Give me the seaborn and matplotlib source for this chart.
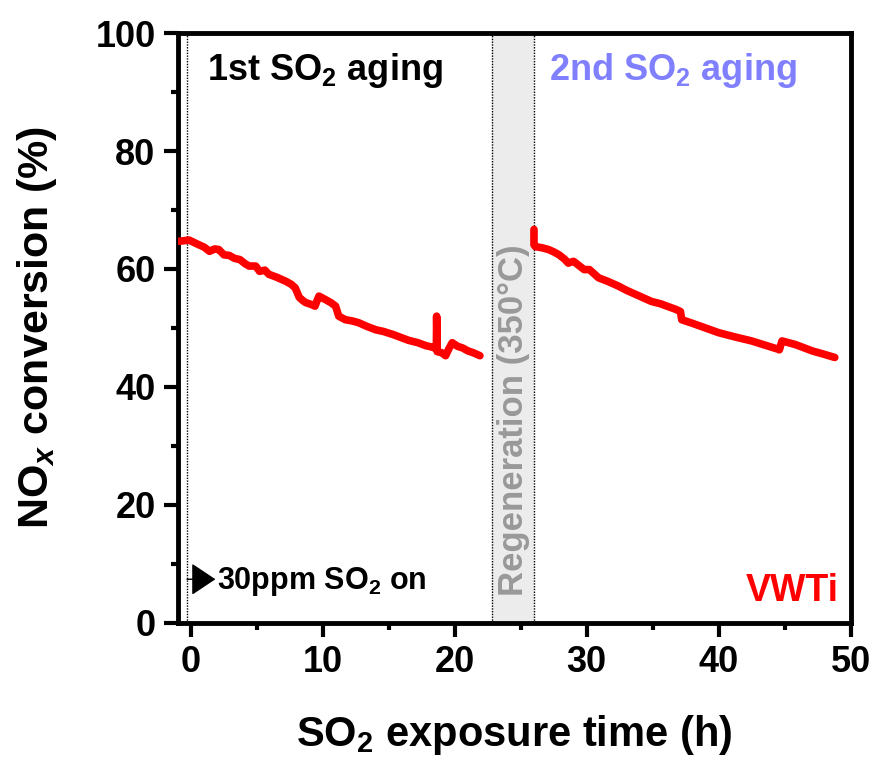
import matplotlib
matplotlib.use("Agg")
import matplotlib.pyplot as plt
import seaborn as sns
import pandas as pd

sns.set_theme(style="ticks")
plt.rcParams["font.family"] = ["Liberation Sans", "DejaVu Sans"]
plt.rcParams["font.weight"] = "bold"
plt.rcParams["mathtext.fontset"] = "custom"
plt.rcParams["mathtext.rm"] = "Liberation Sans:bold"
plt.rcParams["mathtext.it"] = "Liberation Sans:bold:italic"
plt.rcParams["mathtext.bf"] = "Liberation Sans:bold"
plt.rcParams["mathtext.default"] = "regular"
for key in ("text.color", "axes.labelcolor", "xtick.color", "ytick.color", "axes.edgecolor"):
    plt.rcParams[key] = "black"

# First SO2 aging run: NOx conversion (%) vs exposure time (h)
t1 = [-0.9, -0.15, 0.6, 1.0, 1.4, 1.8, 2.1, 2.5, 2.9, 3.3, 3.7, 4.1, 4.4, 4.9, 5.2, 5.6, 5.9,
      6.5, 7.2, 7.6, 7.9, 8.2, 8.5, 8.7, 9.1, 9.4, 9.55, 9.7, 10.2, 10.6, 10.96, 11.2, 11.7,
      12.2, 12.7, 13.3, 14.0, 14.6, 15.3, 15.9, 16.5, 17.2, 17.8, 18.2, 18.5, 18.6, 18.62,
      18.66, 19.0, 19.3, 19.55, 19.8, 20.2, 20.6, 21.0, 21.4, 21.9]
y1 = [64.7, 64.9, 64.1, 63.7, 63.0, 63.4, 63.3, 62.4, 62.3, 61.8, 61.6, 60.9, 60.5, 60.5, 59.6, 59.8, 59.1,
      58.6, 57.9, 57.4, 56.8, 55.2, 54.6, 54.3, 54.0, 53.7, 54.6, 55.4, 54.8, 54.3, 53.7, 52.0, 51.4,
      51.2, 50.9, 50.3, 49.7, 49.4, 48.9, 48.4, 47.9, 47.5, 47.0, 46.8, 46.6, 46.4, 52.0,
      46.0, 45.8, 45.3, 46.5, 47.5, 46.9, 46.6, 46.1, 45.8, 45.3]

# Second SO2 aging run after regeneration
t2 = [26.0, 26.0, 26.1, 26.6, 27.1, 27.5, 27.9, 28.3, 28.6, 29.0, 29.4, 29.8, 30.2, 30.6, 30.9,
      31.6, 32.4, 33.0, 33.7, 34.3, 34.9, 35.6, 36.2, 36.7, 37.1, 37.2, 37.6, 38.0, 39.0, 40.0,
      41.2, 42.5, 43.5, 44.5, 44.6, 44.8, 45.3, 45.8, 46.4, 47.1, 47.9, 48.8]
y2 = [66.7, 64.1, 63.8, 63.6, 63.3, 62.9, 62.4, 61.7, 61.0, 61.3, 60.6, 59.9, 59.9, 59.1, 58.5,
      57.9, 57.1, 56.4, 55.7, 55.1, 54.5, 54.1, 53.6, 53.2, 52.8, 51.4, 51.1, 50.8, 50.0, 49.2,
      48.5, 47.8, 47.1, 46.4, 46.3, 47.8, 47.5, 47.2, 46.7, 46.1, 45.6, 45.0]

so2_on = -0.3
regen_start, regen_end = 22.8, 26.0

x_ticks = [0, 10, 20, 30, 40, 50]
y_ticks = [0, 20, 40, 60, 80, 100]

run1 = pd.DataFrame({"time": t1, "conv": y1})
run2 = pd.DataFrame({"time": t2, "conv": y2})

fig = plt.figure(figsize=(8.76, 7.69), dpi=100)
ax = fig.add_axes([0.203, 0.190, 0.768, 0.767])

ax.axvspan(regen_start, regen_end, color="#ececec", zorder=0, lw=0)
for xv in (so2_on, regen_start, regen_end):
    ax.axvline(xv, color="black", ls=(0, (1, 1)), lw=1.0, zorder=1)

for df in (run1, run2):
    sns.lineplot(data=df, x="time", y="conv", ax=ax, sort=False, estimator=None,
                 color="#ff0000", lw=5.5, solid_joinstyle="round", solid_capstyle="round", zorder=3)

ax.set_xlim(-1, 50)
ax.set_ylim(0, 100)
ax.set_xticks(x_ticks)
ax.set_yticks(y_ticks)
ax.set_xticks([5, 15, 25, 35, 45], minor=True)
ax.set_yticks([10, 30, 50, 70, 90], minor=True)
ax.tick_params(which="major", direction="out", length=10, width=3, labelsize=26, pad=6)
ax.tick_params(which="minor", direction="out", length=5, width=3)
for lab in ax.get_xticklabels() + ax.get_yticklabels():
    lab.set_fontweight("bold")
for sp in ax.spines.values():
    sp.set_linewidth(3.5)
    sp.set_visible(True)

ax.set_xlabel("SO$_2$ exposure time (h)", fontsize=30, fontweight="bold", labelpad=24)
ax.set_ylabel("NO$_\\mathit{x}$ conversion (%)", fontsize=31, fontweight="bold", labelpad=26)

ax.text(1.2, 92.0, "1st SO$_2$ aging", fontsize=26, fontweight="bold", color="black", va="baseline")
ax.text(27.1, 92.0, "2nd SO$_2$ aging", fontsize=26, fontweight="bold", color="#8080ff", va="baseline")
ax.text(24.45, 34.3, "Regeneration (350°C)", fontsize=25, fontweight="bold", color="#999999",
        rotation=90, ha="center", va="center")
ax.annotate("", xy=(1.85, 7.4), xytext=(so2_on, 7.4),
            arrowprops=dict(arrowstyle="-|>,head_length=0.45,head_width=0.3", mutation_scale=34,
                            color="black", lw=1, shrinkA=0, shrinkB=0))
ax.text(1.97, 5.8, "30ppm SO$_2$ on", fontsize=22, fontweight="bold", color="black", va="baseline")
ax.text(49.1, 3.7, "VWTi", fontsize=27, fontweight="bold", color="#ff0000", ha="right", va="baseline")

fig.savefig("out.png", dpi=100)
